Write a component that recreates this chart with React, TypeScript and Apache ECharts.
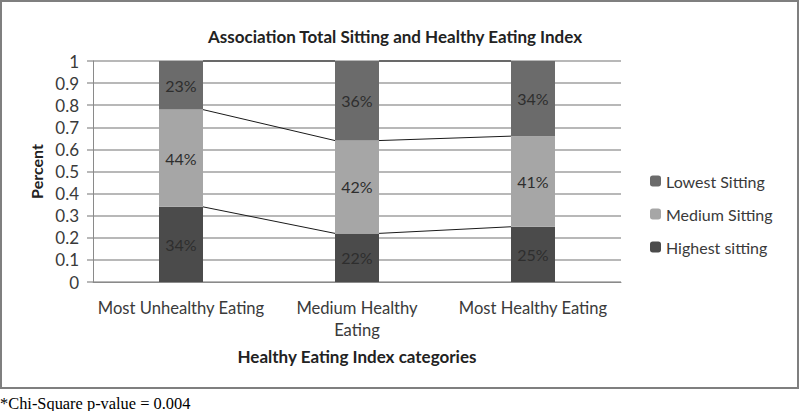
import React, { useEffect, useRef } from "react";
import * as echarts from "echarts";

const categories = ["Most Unhealthy Eating", "Medium Healthy\nEating", "Most Healthy Eating"];
const highestSitting = [0.34, 0.22, 0.25];
const mediumSitting = [0.44, 0.42, 0.41];
const lowestSitting = [0.23, 0.36, 0.34];
const yTicks = { min: 0, max: 1, interval: 0.1 };
const legendOrder = ["Lowest Sitting", "Medium Sitting", "Highest sitting"];

const FONT = "Lato, 'Open Sans', sans-serif";
const TEXT = "#3a3a3a";

export default function App() {
  const ref = useRef<HTMLDivElement>(null);
  useEffect(() => {
    if (!ref.current) return;
    const chart = echarts.init(ref.current, null, { renderer: "svg" });

    // cumulative boundaries for series lines
    const levels: number[][] = [];
    const c1 = highestSitting.map((v) => v);
    const c2 = highestSitting.map((v, i) => v + mediumSitting[i]);
    const c3 = highestSitting.map((v, i) => Math.min(1, v + mediumSitting[i] + lowestSitting[i]));
    [c1, c2, c3].forEach((c) => {
      for (let i = 0; i < c.length - 1; i++) levels.push([i, c[i], c[i + 1]]);
    });

    const label = {
      show: true,
      position: "inside",
      fontFamily: FONT,
      fontSize: 16,
      color: "#2e2e2e",
      textBorderWidth: 0,
      formatter: (p: any) => Math.round(p.value * 100) + "%",
    };

    chart.setOption({
      animation: false,
      textStyle: { fontFamily: FONT },
      title: {
        text: "Association Total Sitting and Healthy Eating Index",
        left: 390,
        textAlign: "center",
        top: 23,
        textStyle: { fontFamily: FONT, fontSize: 17, fontWeight: "bold", color: "#222" },
      },
      legend: {
        orient: "vertical",
        left: 645,
        top: 168,
        itemWidth: 11,
        itemHeight: 11,
        itemGap: 17,
        data: legendOrder,
        textStyle: { fontFamily: FONT, fontSize: 16, color: TEXT, lineHeight: 16 },
      },
      grid: { left: 93, right: 179, top: 61, bottom: 129, containLabel: false },
      xAxis: {
        type: "category",
        data: categories,
        name: "Healthy Eating Index categories",
        nameLocation: "middle",
        nameGap: 66,
        nameTextStyle: { fontFamily: FONT, fontSize: 17, fontWeight: "bold", color: "#222" },
        axisLine: { show: true, lineStyle: { color: "#8a8a8a", width: 1 } },
        axisTick: { show: false },
        axisLabel: { fontFamily: FONT, fontSize: 16.6, color: TEXT, margin: 15, lineHeight: 22, interval: 0 },
      },
      yAxis: {
        type: "value",
        min: yTicks.min,
        max: yTicks.max,
        interval: yTicks.interval,
        name: "Percent",
        nameLocation: "middle",
        nameGap: 48,
        nameTextStyle: { fontFamily: FONT, fontSize: 16, fontWeight: "bold", color: "#222" },
        axisLine: { show: true, lineStyle: { color: "#8a8a8a", width: 1 } },
        axisTick: { show: true, inside: false, length: 6, lineStyle: { color: "#a0a0a0", width: 1.5 } },
        axisLabel: { fontFamily: FONT, fontSize: 17, color: TEXT, margin: 14 },
        splitLine: { show: true, lineStyle: { color: "#a0a0a0", width: 1.5 } },
      },
      series: [
        {
          name: "Highest sitting",
          type: "bar",
          stack: "s",
          barWidth: "25%",
          data: highestSitting,
          itemStyle: { color: "#4b4b4b" },
          label,
        },
        {
          name: "Medium Sitting",
          type: "bar",
          stack: "s",
          barWidth: "25%",
          data: mediumSitting,
          itemStyle: { color: "#a6a6a6" },
          label,
        },
        {
          name: "Lowest Sitting",
          type: "bar",
          stack: "s",
          barWidth: "25%",
          data: lowestSitting,
          itemStyle: { color: "#6b6b6b" },
          label,
          clip: true,
        },
        {
          name: "seriesLines",
          type: "custom",
          z: 5,
          silent: true,
          encode: { x: 0, y: 1 },
          data: levels,
          renderItem: (params: any, api: any) => {
            const i = api.value(0);
            const y0 = api.value(1);
            const y1 = api.value(2);
            const p0 = api.coord([i, y0]);
            const p1 = api.coord([i + 1, y1]);
            const bw = api.size([1, 0])[0] * 0.25;
            return {
              type: "line",
              shape: { x1: p0[0] + bw / 2, y1: p0[1], x2: p1[0] - bw / 2, y2: p1[1] },
              style: { stroke: "#1a1a1a", lineWidth: 1 },
            };
          },
        },
      ],
      graphic: [
        {
          type: "rect",
          shape: { x: 1, y: 1, width: 797, height: 387 },
          style: { fill: "none", stroke: "#7f7f7f", lineWidth: 2 },
          silent: true,
        },
        {
          type: "text",
          x: 0,
          y: 403,
          style: {
            text: "*Chi-Square p-value = 0.004",
            fontFamily: "'Liberation Serif', 'DejaVu Serif', serif",
            fontSize: 16.4,
            fill: "#000",
            verticalAlign: "middle",
          },
        },
      ],
    });
    return () => chart.dispose();
  }, []);
  return (
    <div
      ref={ref}
      style={{ position: "absolute", left: 0, top: 0, width: 800, height: 411, background: "#fff" }}
    />
  );
}
